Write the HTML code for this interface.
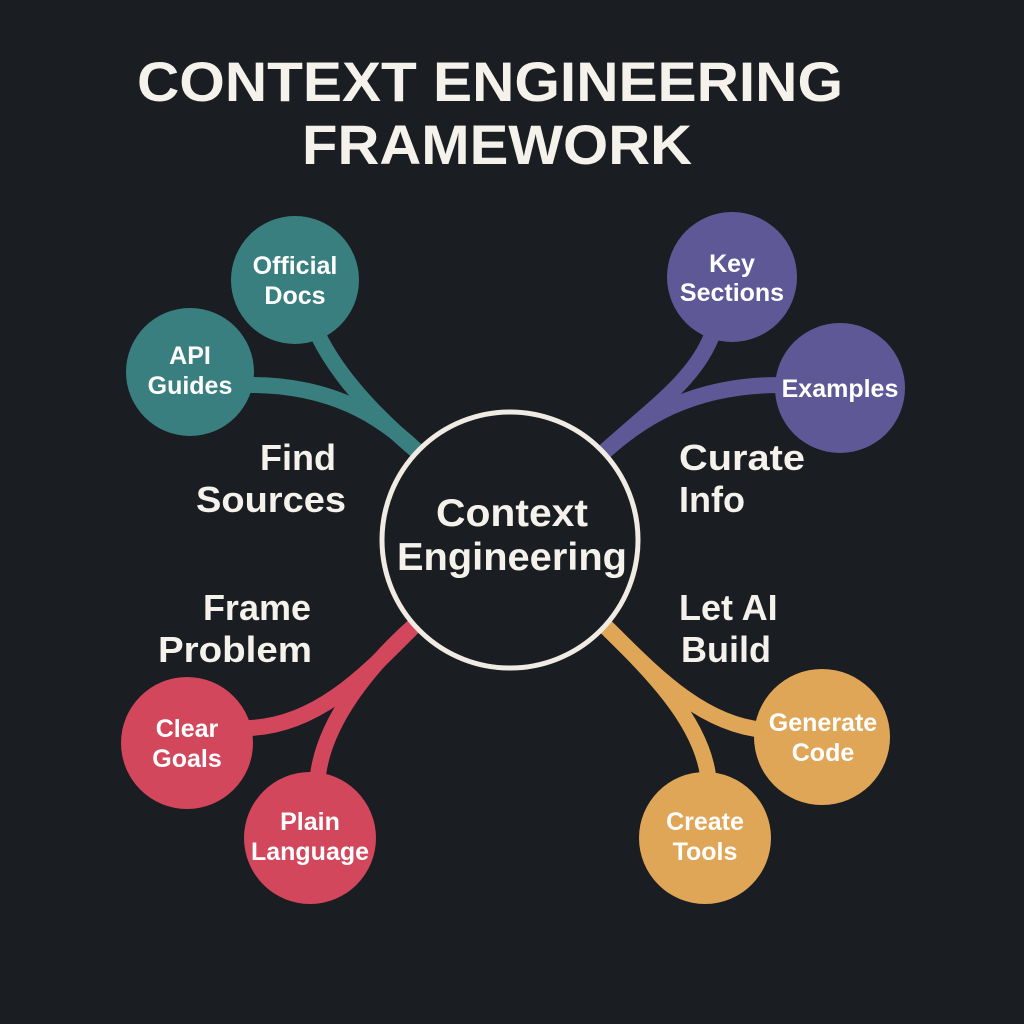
<!DOCTYPE html>
<html><head><meta charset="utf-8"><style>
html,body{margin:0;padding:0;background:#1a1d21;}
svg{display:block;}
text{font-family:"Liberation Sans",sans-serif;font-weight:bold;fill:#f5f2ec;}
.n{font-size:25px;text-anchor:middle;fill:#fff;}
.l{font-size:36px;}
</style></head><body>
<svg width="1024" height="1024" viewBox="0 0 1024 1024" xmlns="http://www.w3.org/2000/svg">
<rect width="1024" height="1024" fill="#1a1d21"/>
<text x="490" y="101" font-size="56" text-anchor="middle" textLength="706" lengthAdjust="spacingAndGlyphs">CONTEXT ENGINEERING</text>
<text x="497" y="164" font-size="56" text-anchor="middle" textLength="390" lengthAdjust="spacingAndGlyphs">FRAMEWORK</text>
<g fill="none" stroke-width="16" stroke-linecap="round">
<path d="M418,452 C380,415 330,385 250,385" stroke="#3a7f80"/>
<path d="M418,452 C380,420 340,380 318,335" stroke="#3a7f80"/>
<path d="M604,452 C640,420 690,385 780,385" stroke="#5e5896"/>
<path d="M604,452 C650,410 695,380 712,335" stroke="#5e5896"/>
<path d="M415,625 C370,670 320,725 250,728" stroke="#d3475d"/>
<path d="M415,625 C370,665 325,720 318,775" stroke="#d3475d"/>
<path d="M604,625 C650,670 700,725 765,730" stroke="#e0a658"/>
<path d="M604,625 C650,670 700,720 708,775" stroke="#e0a658"/>
</g>
<circle cx="295" cy="280" r="64" fill="#3a7f80"/>
<circle cx="190" cy="372" r="64" fill="#3a7f80"/>
<circle cx="732" cy="277" r="65" fill="#5e5896"/>
<circle cx="840" cy="388" r="65" fill="#5e5896"/>
<circle cx="187" cy="743" r="66" fill="#d3475d"/>
<circle cx="310" cy="838" r="66" fill="#d3475d"/>
<circle cx="822" cy="737" r="68" fill="#e0a658"/>
<circle cx="705" cy="838" r="66" fill="#e0a658"/>
<circle cx="510" cy="540" r="128" fill="#1a1d21" stroke="#f0ebe3" stroke-width="5"/>
<text x="512" y="526" font-size="39" text-anchor="middle" textLength="152" lengthAdjust="spacingAndGlyphs">Context</text>
<text x="512" y="570" font-size="39" text-anchor="middle" textLength="230" lengthAdjust="spacingAndGlyphs">Engineering</text>
<text class="n" x="295" y="274">Official</text><text class="n" x="295" y="304">Docs</text>
<text class="n" x="190" y="364">API</text><text class="n" x="190" y="394">Guides</text>
<text class="n" x="732" y="272">Key</text><text class="n" x="732" y="301">Sections</text>
<text class="n" x="840" y="397">Examples</text>
<text class="n" x="187" y="737">Clear</text><text class="n" x="187" y="767">Goals</text>
<text class="n" x="310" y="830">Plain</text><text class="n" x="310" y="860">Language</text>
<text class="n" x="823" y="731">Generate</text><text class="n" x="823" y="761">Code</text>
<text class="n" x="705" y="830">Create</text><text class="n" x="705" y="860">Tools</text>
<text class="l" x="336" y="470" text-anchor="end">Find</text>
<text class="l" x="196" y="512" textLength="150" lengthAdjust="spacingAndGlyphs">Sources</text>
<text class="l" x="679" y="470" textLength="126" lengthAdjust="spacingAndGlyphs">Curate</text>
<text class="l" x="679" y="512">Info</text>
<text class="l" x="311" y="620" text-anchor="end">Frame</text>
<text class="l" x="158" y="662" textLength="154" lengthAdjust="spacingAndGlyphs">Problem</text>
<text class="l" x="679" y="620">Let AI</text>
<text class="l" x="681" y="662">Build</text>
</svg>
</body></html>
